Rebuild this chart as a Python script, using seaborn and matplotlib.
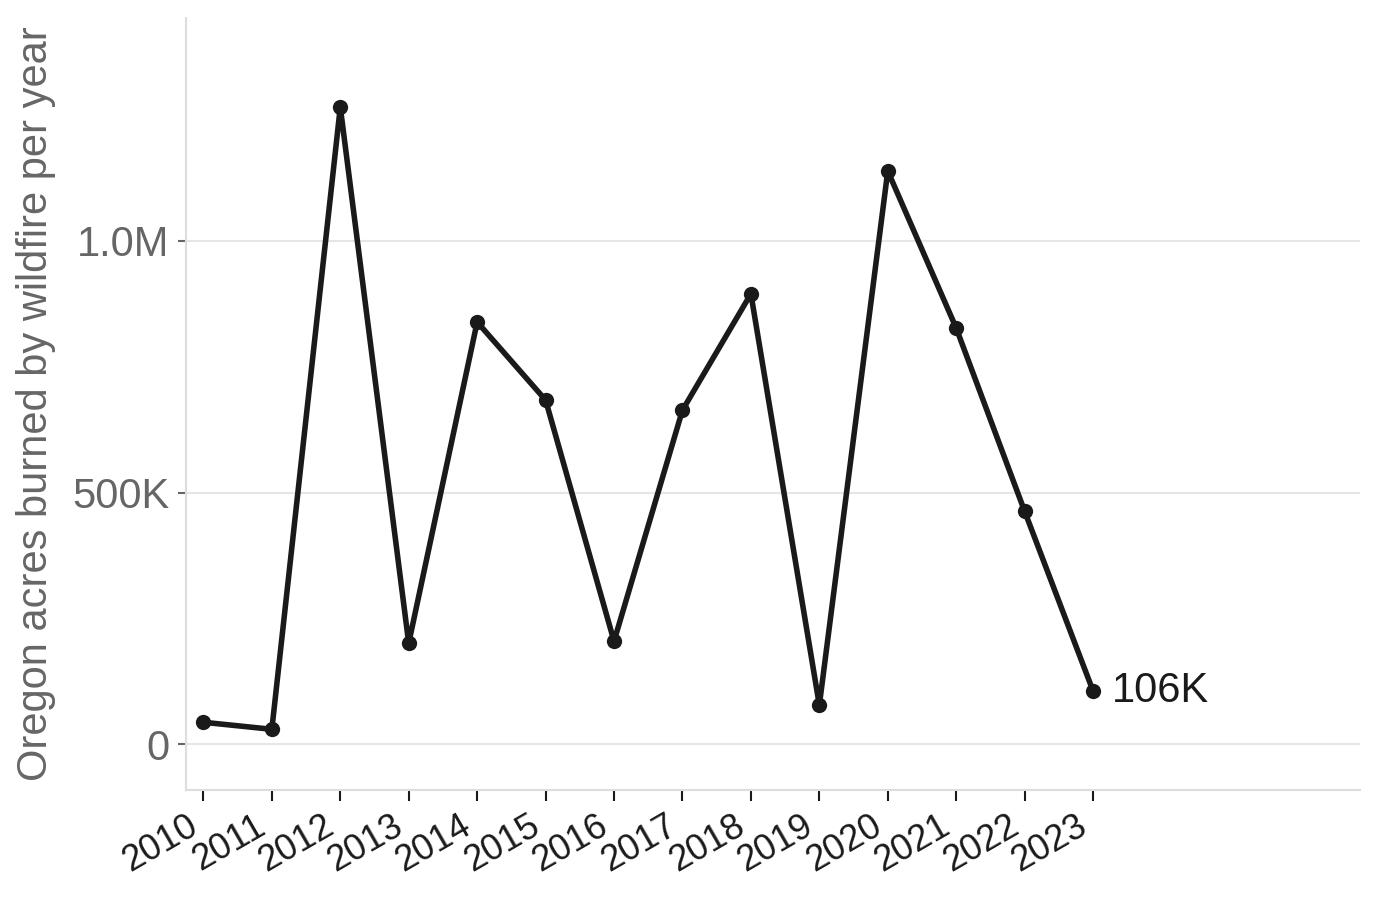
import pandas as pd
import numpy as np
import matplotlib.pyplot as plt
import seaborn as sns
from matplotlib.ticker import FuncFormatter

# acres burned per year
years = [2010, 2011, 2012, 2013, 2014, 2015, 2016, 2017, 2018, 2019, 2020, 2021, 2022, 2023]
acres = [44000, 30000, 1266000, 201000, 839000, 684000, 205000, 664000, 895000, 78000,
         1139000, 827000, 463000, 106000]
last_label = "106K"

df = pd.DataFrame({"year": years, "acres": acres})

sns.set_style("white")
plt.rcParams['font.family'] = ['Liberation Sans', 'DejaVu Sans']

fig = plt.figure(figsize=(13.8, 8.99), dpi=100)
ax = fig.add_axes([0.135, 0.121, 0.8505, 0.859])

sns.lineplot(data=df, x="year", y="acres", marker="o", color="#1a1a1a",
             linewidth=4, markersize=11, markeredgewidth=0, ax=ax)

ax.text(years[-1] + 0.28, acres[-1], last_label, fontsize=30, color="#1a1a1a",
        va="center", ha="left")

ax.set_xlim(2009.75, 2026.9)
ax.set_ylim(-91000, 1443000)
ax.set_xticks(years)
ax.set_xticklabels([str(y) for y in years], rotation=30, ha="right",
                   fontsize=26, color="#1a1a1a")
ax.set_yticks([0, 500000, 1000000])

def fmt(v, pos):
    if v == 0:
        return "0"
    if v >= 1e6:
        return f"{v/1e6:.1f}M"
    return f"{v/1e3:.0f}K"

ax.yaxis.set_major_formatter(FuncFormatter(fmt))
ax.tick_params(axis="y", labelsize=30, labelcolor="#666666", color="#666666",
               length=6, width=1.5, left=True, pad=6)
ax.tick_params(axis="x", color="#1a1a1a", length=8, width=1.5, bottom=True, pad=5)

ax.grid(axis="y", color="#e6e6e6", linewidth=1.5)
ax.set_axisbelow(True)
for s in ["top", "right"]:
    ax.spines[s].set_visible(False)
for s in ["left", "bottom"]:
    ax.spines[s].set_color("#dddddd")
    ax.spines[s].set_linewidth(1.5)

ax.set_xlabel("")
ax.set_ylabel("Oregon acres burned by wildfire per year", fontsize=30, color="#666666", labelpad=12)

fig.savefig("out.png", dpi=100)
